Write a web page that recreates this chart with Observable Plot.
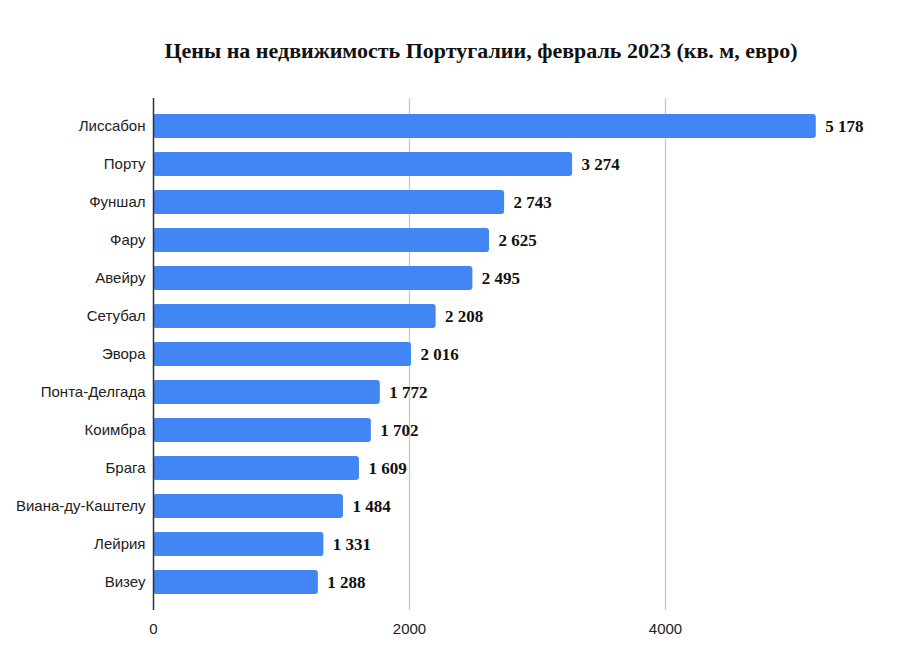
<!DOCTYPE html>
<html>
<head>
<meta charset="utf-8">
<script src="https://cdn.jsdelivr.net/npm/d3@7"></script>
<script src="https://cdn.jsdelivr.net/npm/@observablehq/plot@0.6"></script>
<style>
  html, body { margin: 0; padding: 0; background: #fff; }
  #wrap { width: 900px; height: 662px; position: relative; overflow: hidden; }
  #title { position: absolute; left: 62px; width: 838px; top: 37px; text-align: center;
    font-family: "Liberation Serif", "Times New Roman", serif; font-weight: bold; font-size: 22px;
    line-height: 28px; color: #111; }
  #chart { position: absolute; left: 0; top: 80px; }
</style>
</head>
<body>
<div id="wrap">
  <div id="title">Цены на недвижимость Португалии, февраль 2023 (кв. м, евро)</div>
  <div id="chart"></div>
</div>
<script>
const cities = ["Лиссабон", "Порту", "Фуншал", "Фару", "Авейру", "Сетубал", "Эвора",
  "Понта-Делгада", "Коимбра", "Брага", "Виана-ду-Каштелу", "Лейрия", "Визеу"];
const prices = [5178, 3274, 2743, 2625, 2495, 2208, 2016, 1772, 1702, 1609, 1484, 1331, 1288];
const xTicks = [0, 2000, 4000];

const data = cities.map((c, i) => ({city: c, price: prices[i]}));
const fmt = d3.formatLocale({decimal: ",", thousands: " ", grouping: [3], currency: ["", ""]}).format(",d");

const chart = Plot.plot({
  width: 900,
  height: 582,
  marginTop: 18,
  marginBottom: 52,
  marginLeft: 153,
  marginRight: 43,
  style: {fontFamily: "'Liberation Sans', Arial, sans-serif", fontSize: "15px", color: "#222", background: "#fff"},
  x: {domain: [0, 5500], axis: null, label: null},
  y: {domain: cities, paddingInner: 0.36, paddingOuter: 0.36, axis: null, label: null},
  marks: [
    Plot.ruleX(xTicks.filter(d => d > 0), {stroke: "#c8c8c8", strokeWidth: 1.3}),
    Plot.barX(data, {y: "city", x: "price", fill: "#4285f4", rx: 3}),
    Plot.ruleX([0], {stroke: "#333", strokeWidth: 1.5}),
    Plot.axisY({tickSize: 0, tickPadding: 8, fontSize: 15, fill: "#222", label: null}),
    Plot.axisX(xTicks, {tickSize: 0, tickPadding: 13, fontSize: 15, fill: "#222", label: null, tickFormat: d => String(d)}),
    Plot.text(data, {y: "city", x: "price", text: d => fmt(d.price), dx: 9, textAnchor: "start",
      fontFamily: "'Liberation Serif', 'Times New Roman', serif", fontWeight: "bold", fontSize: 17, fill: "#111"})
  ]
});
document.getElementById("chart").appendChild(chart);
</script>
</body>
</html>
